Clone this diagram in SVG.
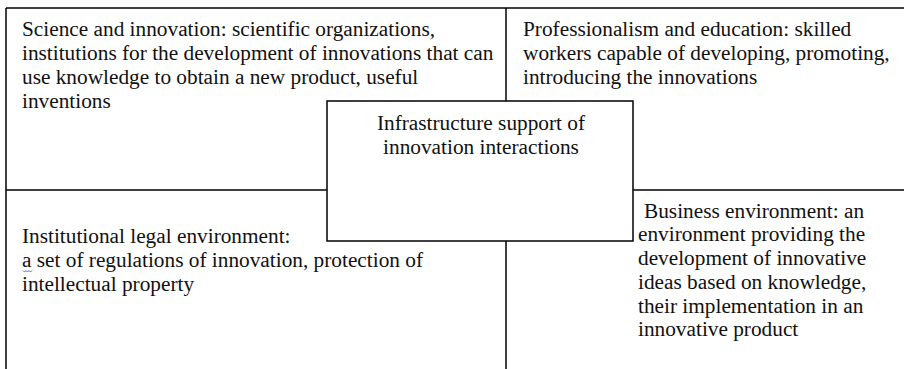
<svg xmlns="http://www.w3.org/2000/svg" width="904" height="369" viewBox="0 0 904 369">
<style>
.ln{stroke:#000;stroke-width:1.5;fill:none}
.t{font-family:"Liberation Serif","Times New Roman",serif;font-size:21.3px;fill:#111}
</style>
<rect width="904" height="369" fill="#fff"/>
<g id="connectors">
<line class="ln" x1="6" y1="8" x2="904" y2="8"/>
<line class="ln" x1="6" y1="8" x2="6" y2="369"/>
<line class="ln" x1="506" y1="8" x2="506" y2="101"/>
<line class="ln" x1="506" y1="241" x2="506" y2="369"/>
<line class="ln" x1="6" y1="190" x2="327" y2="190"/>
<line class="ln" x1="633" y1="190" x2="904" y2="190"/>
</g>
<g id="science">
<text class="t" x="22" y="36">Science and innovation: scientific organizations,</text>
<text class="t" x="22" y="60">institutions for the development of innovations that can</text>
<text class="t" x="22" y="84">use knowledge to obtain a new product, useful</text>
<text class="t" x="22" y="107.5">inventions</text>
</g>
<g id="professionalism">
<text class="t" x="523" y="36">Professionalism and education: skilled</text>
<text class="t" x="523" y="60">workers capable of developing, promoting,</text>
<text class="t" x="523" y="84">introducing the innovations</text>
</g>
<g id="institutional">
<text class="t" x="22" y="243">Institutional legal environment:</text>
<text class="t" x="22" y="267">a set of regulations of innovation, protection of</text>
<text class="t" x="22" y="290.5">intellectual property</text>
<path d="M23 270.5 l1.5 1.5 l1.5 -1.5 l1.5 1.5 l1.5 -1.5 l1.5 1.5 l1.5 -1.5" stroke="#3b5bdb" stroke-width="0.9" fill="none"/>
</g>
<g id="business">
<text class="t" x="644" y="217.5">Business environment: an</text>
<text class="t" x="638" y="241.3">environment providing the</text>
<text class="t" x="638" y="265">development of innovative</text>
<text class="t" x="638" y="288.8">ideas based on knowledge,</text>
<text class="t" x="638" y="312.5">their implementation in an</text>
<text class="t" x="638" y="336.3">innovative product</text>
</g>
<g id="infrastructure">
<rect class="ln" x="327" y="101" width="306" height="140" fill="#fff"/>
<text class="t" x="481" y="130" text-anchor="middle">Infrastructure support of</text>
<text class="t" x="481" y="153.5" text-anchor="middle">innovation interactions</text>
</g>
</svg>
